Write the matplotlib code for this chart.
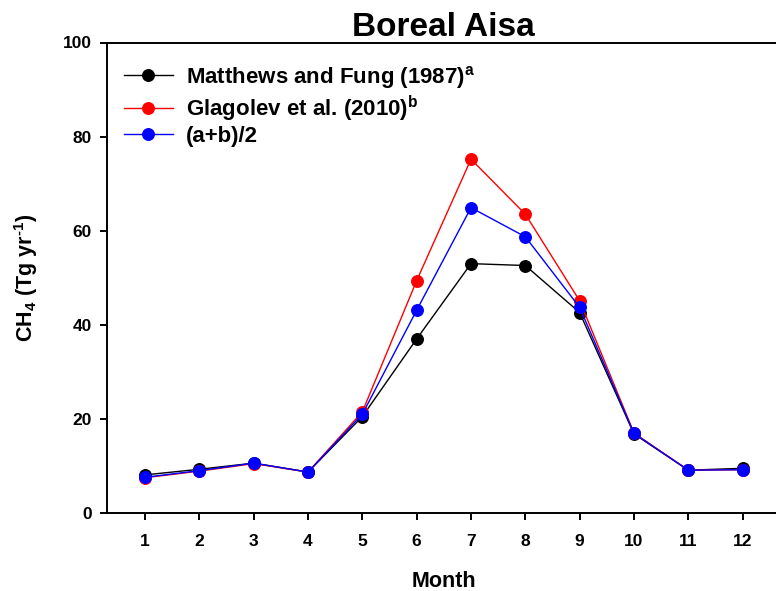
import matplotlib
matplotlib.use("Agg")
import matplotlib.pyplot as plt

plt.rcParams['font.family'] = ['Liberation Sans', 'DejaVu Sans']
plt.rcParams['font.weight'] = 'bold'
plt.rcParams['mathtext.fontset'] = 'custom'
plt.rcParams['mathtext.rm'] = 'Liberation Sans:bold'
plt.rcParams['mathtext.bf'] = 'Liberation Sans:bold'
plt.rcParams['mathtext.it'] = 'Liberation Sans:bold'
plt.rcParams['mathtext.default'] = 'bf'

months = [1, 2, 3, 4, 5, 6, 7, 8, 9, 10, 11, 12]
matthews = [8.1, 9.3, 10.6, 8.7, 20.5, 37.0, 53.0, 52.6, 42.6, 16.8, 9.1, 9.5]
glagolev = [7.5, 8.9, 10.5, 8.7, 21.5, 49.4, 75.2, 63.5, 45.1, 17.0, 9.1, 9.2]
average = [7.6, 9.0, 10.6, 8.7, 21.0, 43.1, 64.9, 58.7, 43.7, 16.9, 9.1, 9.2]

labels = ['Matthews and Fung (1987)$^{a}$',
          'Glagolev et al. (2010)$^{b}$',
          '(a+b)/2']
colors = ['black', 'red', 'blue']
yticks = [0, 20, 40, 60, 80, 100]

fig = plt.figure(figsize=(7.76, 5.91), dpi=100)
ax = fig.add_axes([107/776, 78/591, (780.7-107)/776, (513-42.5)/591])

for vals, lab, c in zip([matthews, glagolev, average], labels, colors):
    ax.plot(months, vals, color=c, lw=1.0, marker='o', markersize=8.3,
            markeredgecolor=c, markerfacecolor=c, label=lab)

ax.set_xlim(0.3, 12.7)
ax.set_ylim(0, 100)
ax.set_xticks(months)
ax.set_yticks(yticks)
ax.tick_params(direction='out', length=5, width=1.4, labelsize=12.5, pad=6)
ax.tick_params(axis='x', pad=10)
for lbl in ax.get_xticklabels() + ax.get_yticklabels():
    lbl.set_fontweight('bold')
for s in ['left', 'bottom', 'top', 'right']:
    ax.spines[s].set_linewidth(1.4)

ax.set_title('Boreal Aisa', fontsize=24, fontweight='bold', pad=5)
ax.set_xlabel('Month', fontsize=15.5, fontweight='bold', labelpad=16)
ax.set_ylabel('CH$_4$ (Tg yr$^{\\text{-1}}$)', fontsize=15.5, fontweight='bold', labelpad=16)

leg = ax.legend(loc='upper left', bbox_to_anchor=(17/673.7, 0.955), frameon=False,
                fontsize=16, handlelength=2.2, handletextpad=0.6,
                labelspacing=0.12, borderaxespad=0.0, borderpad=0.0)
for t in leg.get_texts():
    t.set_fontweight('bold')

fig.savefig('out.png', dpi=100)
